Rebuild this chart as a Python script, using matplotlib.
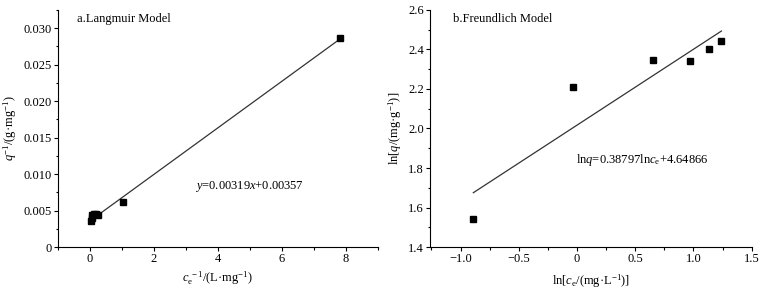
import numpy as np
import matplotlib
matplotlib.use('Agg')
from matplotlib import pyplot as plt
from matplotlib.ticker import MultipleLocator

plt.rcParams['font.family'] = 'Liberation Serif'
plt.rcParams['mathtext.fontset'] = 'custom'
plt.rcParams['mathtext.rm'] = 'Liberation Serif'
plt.rcParams['mathtext.it'] = 'Liberation Serif:italic'
plt.rcParams['font.size'] = 9

# a. Langmuir
lang_x = [0.04, 0.06, 0.08, 0.12, 0.18, 0.24, 1.05, 7.83]
lang_y = [0.0036, 0.0040, 0.0044, 0.0045, 0.0045, 0.0044, 0.0062, 0.0287]
lang_k, lang_b = 0.00319, 0.00357

# b. Freundlich
fr_x = [-0.89, -0.03, 0.65, 0.97, 1.13, 1.24]
fr_y = [1.54, 2.21, 2.345, 2.34, 2.40, 2.445]

fig = plt.figure(figsize=(7.71, 2.91), dpi=100)
ax1 = fig.add_axes([0.075, 0.151, 0.415, 0.815])
ax2 = fig.add_axes([0.558, 0.151, 0.417, 0.815])

for ax in (ax1, ax2):
    ax.spines['top'].set_visible(False)
    ax.spines['right'].set_visible(False)
    ax.tick_params(which='both', direction='out', width=0.8, pad=1.5)
    ax.tick_params(which='major', length=3)
    ax.tick_params(which='minor', length=1.8)

# Langmuir
xl = np.array([0.24, 7.83])
ax1.plot(xl, lang_k * xl + lang_b, color='#333333', lw=0.9)
ax1.plot(lang_x, lang_y, 's', color='black', ms=4.5)
ax1.set_xlim(-1, 9)
ax1.set_ylim(0, 0.0325)
ax1.xaxis.set_major_locator(MultipleLocator(2))
ax1.xaxis.set_minor_locator(MultipleLocator(1))
ax1.yaxis.set_major_locator(MultipleLocator(0.005))
ax1.yaxis.set_minor_locator(MultipleLocator(0.0025))
ax1.set_yticks([0, 0.005, 0.010, 0.015, 0.020, 0.025, 0.030])
ax1.set_yticklabels(['0', '0.005', '0.010', '0.015', '0.020', '0.025', '0.030'])
ax1.set_xlabel(r'$c_{\mathrm{e}}^{\ -1}$/(L·mg$^{-1}$)', labelpad=3)
ax1.set_ylabel(r'$q^{-1}$/(g·mg$^{-1}$)', labelpad=3)
ax1.text(0.06, 0.96, 'a.Langmuir Model', transform=ax1.transAxes, va='center')
ax1.text(3.3, 0.0083, r'$y$=0.00319$x$+0.00357', va='center')

# Freundlich
k, b = np.polyfit(fr_x, fr_y, 1)
xf = np.array([min(fr_x), max(fr_x)])
ax2.plot(xf, k * xf + b, color='#333333', lw=0.9)
ax2.plot(fr_x, fr_y, 's', color='black', ms=4.5)
ax2.set_xlim(-1.26, 1.5)
ax2.set_ylim(1.4, 2.6)
ax2.xaxis.set_major_locator(MultipleLocator(0.5))
ax2.xaxis.set_minor_locator(MultipleLocator(0.25))
ax2.yaxis.set_major_locator(MultipleLocator(0.2))
ax2.yaxis.set_minor_locator(MultipleLocator(0.1))
ax2.set_xticks([-1.0, -0.5, 0, 0.5, 1.0, 1.5])
ax2.set_xticklabels(['\u22121.0', '\u22120.5', '0', '0.5', '1.0', '1.5'])
ax2.set_yticks([1.4, 1.6, 1.8, 2.0, 2.2, 2.4, 2.6])
ax2.set_yticklabels(['1.4', '1.6', '1.8', '2.0', '2.2', '2.4', '2.6'])
ax2.set_xlabel(r'ln[$c_{\mathrm{e}}$/(mg·L$^{-1}$)]', labelpad=5)
ax2.set_ylabel(r'ln[$q$/(mg·g$^{-1}$)]', labelpad=3)
ax2.text(0.07, 0.96, 'b.Freundlich Model', transform=ax2.transAxes, va='center')
ax2.text(-0.01, 1.84, r'ln$q$=0.38797ln$c_{\mathrm{e}}$+4.64866', va='center')

fig.savefig('out.png', dpi=100)
